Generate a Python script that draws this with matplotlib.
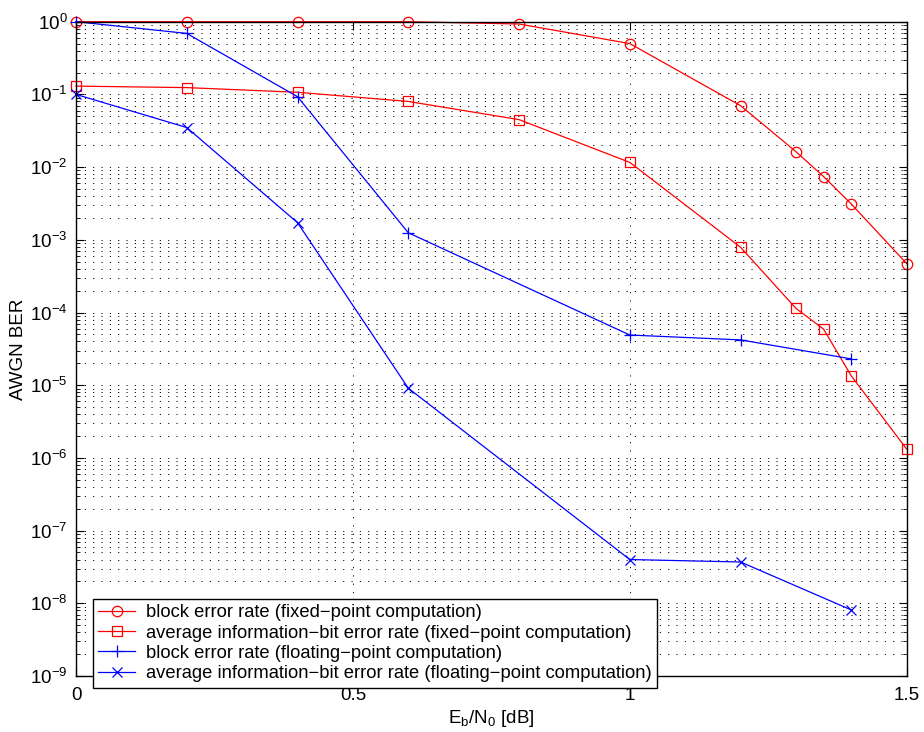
import numpy as np
import matplotlib
matplotlib.use("Agg")
import matplotlib.pyplot as plt
from matplotlib.ticker import LogLocator, FixedLocator, NullLocator

plt.rcParams['font.family'] = ['Liberation Sans', 'DejaVu Sans']
plt.rcParams['mathtext.fontset'] = 'custom'
plt.rcParams['mathtext.rm'] = 'Liberation Sans'
plt.rcParams['mathtext.it'] = 'Liberation Sans:italic'
plt.rcParams['lines.scale_dashes'] = False

# fixed-point computation
x_fixed = [0, 0.2, 0.4, 0.6, 0.8, 1.0, 1.2, 1.3, 1.35, 1.4, 1.5]
bler_fixed = [1.0, 1.0, 1.0, 1.0, 0.93, 0.50, 0.070, 0.0163, 0.0074, 0.0031, 4.7e-4]
ber_fixed = [0.13, 0.124, 0.107, 0.080, 0.045, 0.0116, 7.9e-4, 1.14e-4, 5.9e-5, 1.34e-5, 1.32e-6]

# floating-point computation
x_float = [0, 0.2, 0.4, 0.6, 1.0, 1.2, 1.4]
bler_float = [1.0, 0.69, 0.093, 1.25e-3, 4.9e-5, 4.2e-5, 2.3e-5]
ber_float = [0.10, 0.035, 1.72e-3, 9.1e-6, 4.0e-8, 3.7e-8, 8.1e-9]

labels = ["block error rate (fixed\u2212point computation)",
          "average information\u2212bit error rate (fixed\u2212point computation)",
          "block error rate (floating\u2212point computation)",
          "average information\u2212bit error rate (floating\u2212point computation)"]

fig = plt.figure(figsize=(9.24, 7.32), dpi=100)
ax = fig.add_axes([76/924, 1-676/732, (906.7-76)/924, (676-21.7)/732])

lw = 0.9
ax.semilogy(x_fixed, bler_fixed, '-o', color='r', lw=lw, ms=7.5, mfc='none', mew=0.9, label=labels[0], clip_on=False)
ax.semilogy(x_fixed, ber_fixed, '-s', color='r', lw=lw, ms=6.5, mfc='none', mew=0.9, label=labels[1], clip_on=False)
ax.semilogy(x_float, bler_float, '-+', color='b', lw=lw, ms=9, mew=0.9, label=labels[2], clip_on=False)
ax.semilogy(x_float, ber_float, '-x', color='b', lw=lw, ms=6.5, mew=0.9, label=labels[3], clip_on=False)

ax.set_xlim(0, 1.5)
ax.set_ylim(1e-9, 1)
ax.xaxis.set_major_locator(FixedLocator([0, 0.5, 1, 1.5]))
ax.set_xticklabels(["0", "0.5", "1", "1.5"])
ax.xaxis.set_minor_locator(NullLocator())
ax.yaxis.set_major_locator(LogLocator(base=10, numticks=20))
ax.yaxis.set_minor_locator(LogLocator(base=10, subs=np.arange(2, 10), numticks=20))

grid_style = dict(color='k', linestyle=(0, (0.8, 5.2)), linewidth=0.7)
ax.grid(True, which='major', axis='both', **grid_style)
ax.grid(True, which='minor', axis='y', **grid_style)

ax.tick_params(which='both', direction='in', top=True, right=True, labelsize=13.5)
ax.tick_params(which='major', length=6, width=0.8)
ax.tick_params(which='minor', length=3, width=0.6)
ax.tick_params(axis='y', pad=6)
ax.tick_params(axis='x', pad=8)
for s in ax.spines.values():
    s.set_linewidth(1.0)

ax.set_xlabel(r"E$_\mathregular{b}$/N$_\mathregular{0}$ [dB]", fontsize=13.5, labelpad=3)
ax.set_ylabel("AWGN BER", fontsize=13.5, labelpad=2)

leg = ax.legend(loc='lower left', bbox_to_anchor=(92.7/924, 1-687.7/732),
                bbox_transform=fig.transFigure, fontsize=13.2, fancybox=False,
                edgecolor='k', framealpha=1, borderaxespad=0, borderpad=0.3,
                handlelength=2.0, handletextpad=0.6, labelspacing=0.18)
leg.get_frame().set_linewidth(1.0)

fig.savefig("out.png", dpi=100)
